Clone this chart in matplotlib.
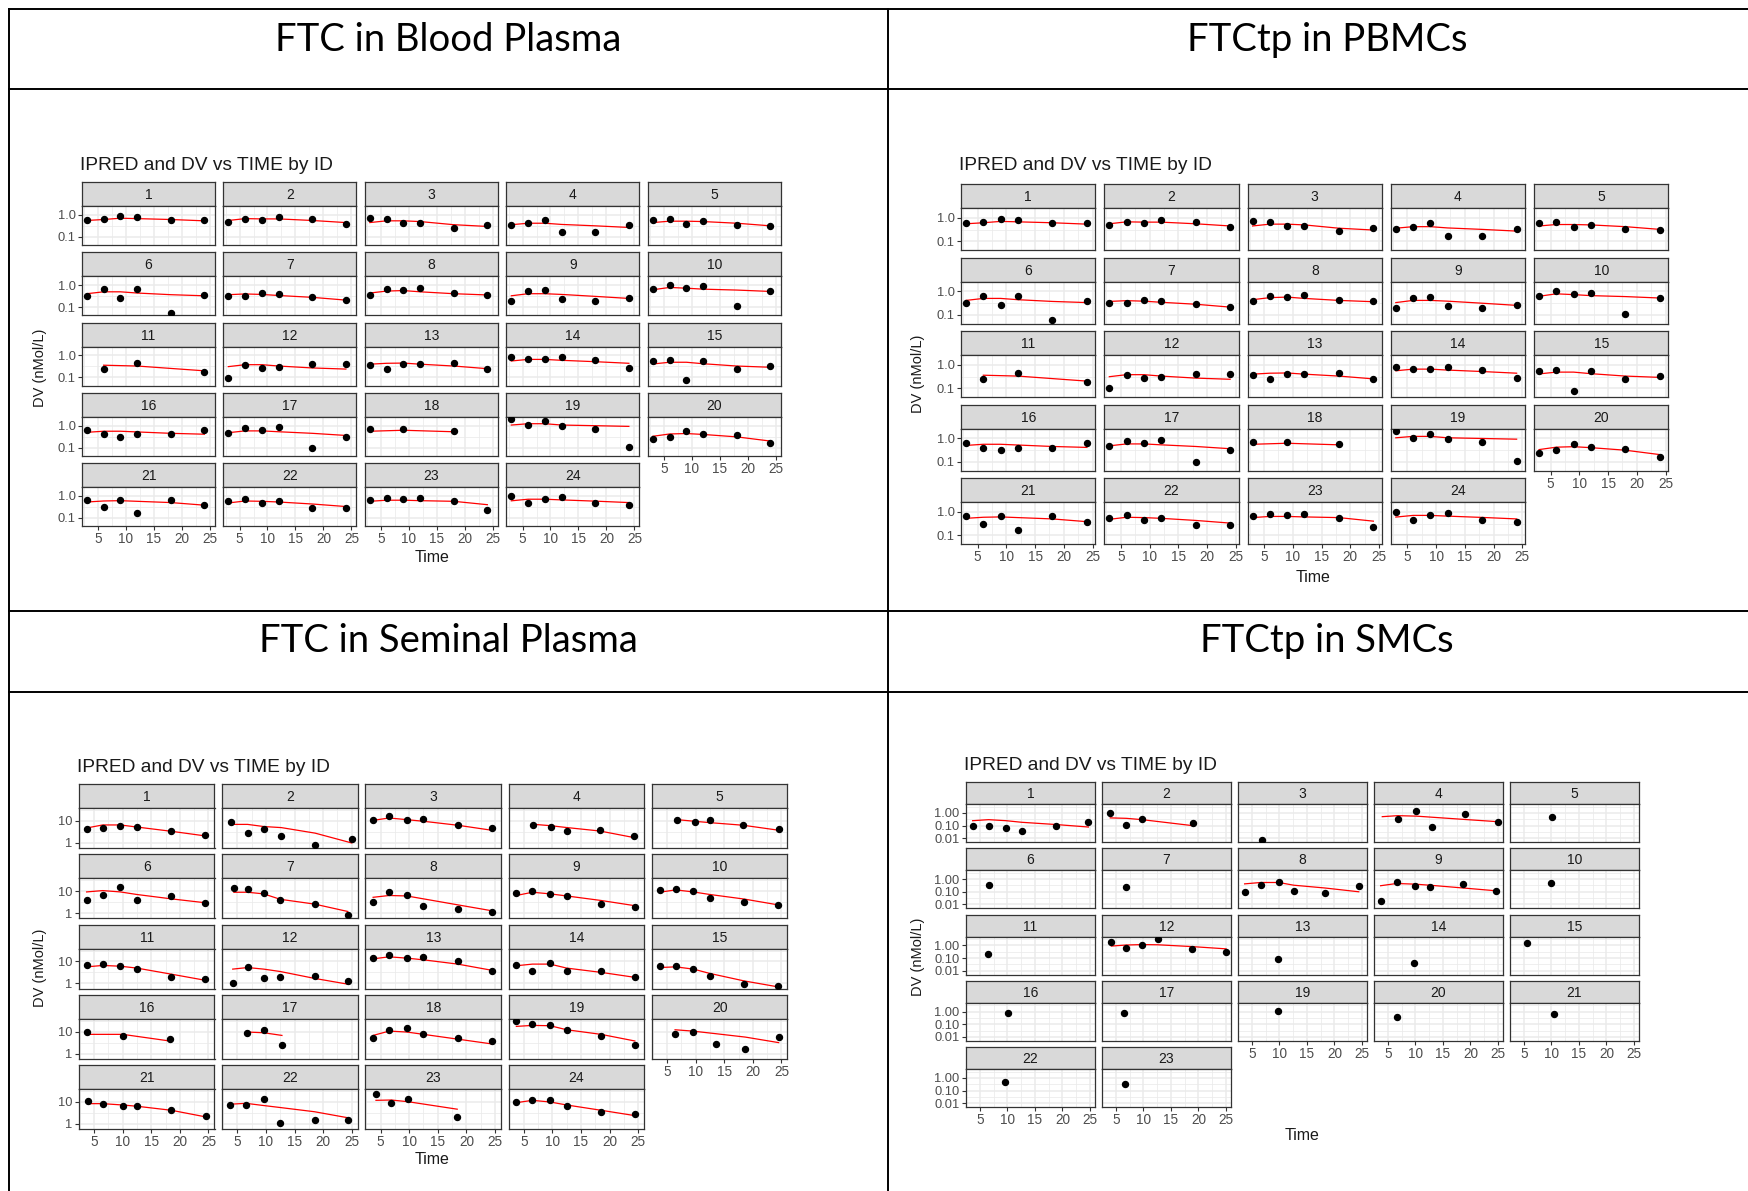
import matplotlib
matplotlib.use("Agg")
import matplotlib.pyplot as plt
from matplotlib.lines import Line2D

W, H = 1749, 1191
fig = plt.figure(figsize=(W / 100, H / 100), dpi=100)
fig.patch.set_facecolor("white")

SANS = ["Liberation Sans", "DejaVu Sans"]

# ---------------------------------------------------------------- data
header_titles = ["FTC in Blood Plasma", "FTCtp in PBMCs",
                 "FTC in Seminal Plasma", "FTCtp in SMCs"]
plot_title = "IPRED and DV vs TIME by ID"
x_label = "Time"
y_label = "DV (nMol/L)"

# ---- FTC in blood plasma (same values shown for FTCtp in PBMCs)
plasma_ids = list(range(1, 25))
plasma_time_default = [3, 6, 9, 12, 18, 24]
plasma_time = {11: [6, 12, 24], 18: [3, 9, 18]}
plasma_dv = {
    1: [0.60, 0.66, 0.93, 0.81, 0.60, 0.60],
    2: [0.49, 0.66, 0.60, 0.79, 0.66, 0.40],
    3: [0.71, 0.66, 0.44, 0.44, 0.26, 0.36],
    4: [0.34, 0.42, 0.58, 0.17, 0.17, 0.34],
    5: [0.58, 0.64, 0.40, 0.52, 0.34, 0.31],
    6: [0.31, 0.66, 0.27, 0.66, 0.056, 0.37],
    7: [0.33, 0.33, 0.44, 0.40, 0.30, 0.21],
    8: [0.37, 0.66, 0.60, 0.73, 0.44, 0.37],
    9: [0.20, 0.54, 0.60, 0.24, 0.20, 0.26],
    10: [0.66, 1.00, 0.76, 0.90, 0.11, 0.54],
    11: [0.24, 0.44, 0.18],
    12: [0.096, 0.37, 0.26, 0.30, 0.40, 0.40],
    13: [0.37, 0.24, 0.40, 0.40, 0.44, 0.24],
    14: [0.81, 0.66, 0.66, 0.81, 0.60, 0.26],
    15: [0.54, 0.60, 0.073, 0.54, 0.24, 0.32],
    16: [0.64, 0.40, 0.31, 0.40, 0.40, 0.64],
    17: [0.48, 0.79, 0.64, 0.87, 0.10, 0.32],
    18: [0.71, 0.71, 0.56],
    19: [2.1, 1.07, 1.56, 0.97, 0.71, 0.107],
    20: [0.24, 0.32, 0.58, 0.44, 0.36, 0.16],
    21: [0.64, 0.31, 0.64, 0.17, 0.68, 0.38],
    22: [0.57, 0.71, 0.46, 0.57, 0.27, 0.27],
    23: [0.64, 0.84, 0.71, 0.84, 0.57, 0.23],
    24: [1.03, 0.47, 0.71, 0.93, 0.47, 0.38],
}
plasma_ipred = {
    1: [0.56, 0.62, 0.71, 0.68, 0.62, 0.54],
    2: [0.56, 0.68, 0.66, 0.66, 0.56, 0.45],
    3: [0.45, 0.54, 0.54, 0.50, 0.36, 0.30],
    4: [0.36, 0.42, 0.42, 0.37, 0.32, 0.27],
    5: [0.45, 0.52, 0.52, 0.50, 0.42, 0.32],
    6: [0.41, 0.50, 0.50, 0.44, 0.37, 0.33],
    7: [0.37, 0.40, 0.38, 0.34, 0.28, 0.21],
    8: [0.44, 0.54, 0.57, 0.50, 0.41, 0.36],
    9: [0.33, 0.41, 0.41, 0.38, 0.31, 0.25],
    10: [0.62, 0.79, 0.73, 0.66, 0.60, 0.52],
    11: [0.36, 0.33, 0.20],
    12: [0.31, 0.38, 0.38, 0.33, 0.27, 0.24],
    13: [0.40, 0.44, 0.45, 0.40, 0.33, 0.25],
    14: [0.56, 0.66, 0.66, 0.60, 0.52, 0.44],
    15: [0.41, 0.49, 0.49, 0.42, 0.33, 0.29],
    16: [0.50, 0.56, 0.56, 0.52, 0.45, 0.41],
    17: [0.48, 0.58, 0.58, 0.53, 0.45, 0.36],
    18: [0.56, 0.62, 0.53],
    19: [1.07, 1.23, 1.23, 1.07, 1.00, 0.93],
    20: [0.33, 0.42, 0.44, 0.40, 0.31, 0.20],
    21: [0.53, 0.59, 0.61, 0.57, 0.50, 0.38],
    22: [0.48, 0.59, 0.57, 0.53, 0.43, 0.33],
    23: [0.57, 0.64, 0.64, 0.61, 0.57, 0.40],
    24: [0.60, 0.71, 0.71, 0.66, 0.58, 0.50],
}

# ---- FTC in seminal plasma
seminal_ids = list(range(1, 25))
seminal_time_default = [3.7, 6.5, 9.6, 12.5, 18.5, 24.4]
seminal_time = {
    2: [3.9, 6.8, 9.6, 12.7, 18.6, 25.0],
    4: [6.6, 9.7, 12.6, 18.3, 24.3],
    5: [6.8, 9.8, 12.5, 18.3, 24.5],
    7: [4.4, 6.8, 9.6, 12.5, 18.5, 24.3],
    12: [4.2, 6.8, 9.6, 12.5, 18.5, 24.3],
    16: [3.7, 10.0, 18.2],
    17: [6.7, 9.6, 12.8],
    20: [6.4, 9.5, 13.6, 18.7, 24.5],
    21: [4.0, 6.5, 10.0, 12.5, 18.5, 24.5],
    23: [4.2, 6.9, 9.8, 18.4],
}
seminal_dv = {
    1: [4.2, 5.0, 6.1, 5.5, 3.4, 2.2],
    2: [9.3, 2.75, 4.5, 2.0, 0.78, 1.5],
    3: [11.5, 16.3, 11.5, 12.8, 6.8, 5.0],
    4: [6.4, 5.5, 3.4, 3.8, 2.15],
    5: [11.5, 8.7, 11.5, 6.8, 4.5],
    6: [4.0, 7.1, 15.7, 4.0, 6.1, 3.0],
    7: [14.2, 12.8, 8.4, 4.0, 2.5, 0.8],
    8: [3.4, 9.3, 6.8, 2.2, 1.5, 1.1],
    9: [8.1, 10.4, 7.3, 6.1, 2.6, 2.0],
    10: [11.5, 12.8, 10.4, 5.1, 3.1, 2.4],
    11: [7.1, 7.6, 6.1, 4.5, 2.0, 1.6],
    12: [1.0, 5.5, 1.8, 2.0, 2.2, 1.25],
    13: [14.2, 19.6, 14.2, 15.7, 10.4, 3.8],
    14: [6.8, 3.8, 8.7, 3.8, 3.6, 1.9],
    15: [6.4, 6.4, 4.5, 2.2, 0.93, 0.73],
    16: [9.7, 6.1, 4.5],
    17: [9.0, 12.3, 2.5],
    18: [5.3, 12.3, 14.2, 8.1, 5.0, 3.6],
    19: [31.6, 23.0, 20.8, 12.3, 6.1, 2.5],
    20: [8.1, 10.0, 2.65, 1.6, 5.9],
    21: [10.7, 8.1, 6.6, 6.4, 4.4, 2.4],
    22: [7.3, 7.3, 13.2, 1.07, 1.5, 1.5],
    23: [22.0, 8.7, 13.2, 2.1],
    24: [10.4, 12.8, 12.3, 6.8, 3.4, 2.75],
}
seminal_ipred = {
    1: [4.8, 6.6, 6.6, 5.3, 3.4, 2.1],
    2: [7.0, 7.0, 5.6, 5.0, 2.8, 1.0],
    3: [10.7, 13.7, 11.5, 9.7, 6.4, 3.8],
    4: [7.1, 6.1, 5.0, 3.5, 1.75],
    5: [11.5, 9.7, 8.4, 6.4, 3.8],
    6: [9.3, 10.7, 9.3, 7.1, 4.5, 3.0],
    7: [9.0, 9.0, 7.6, 4.3, 2.6, 1.2],
    8: [5.3, 6.4, 6.1, 4.5, 2.4, 1.3],
    9: [6.4, 9.0, 7.6, 6.1, 3.8, 2.2],
    10: [9.0, 11.5, 9.3, 7.1, 4.4, 2.4],
    11: [5.7, 6.6, 6.1, 5.0, 2.65, 1.4],
    12: [4.5, 5.3, 4.5, 3.5, 1.7, 0.93],
    13: [13.2, 16.3, 14.2, 11.9, 7.6, 4.0],
    14: [6.4, 7.6, 7.6, 5.0, 3.2, 1.9],
    15: [5.3, 5.7, 4.5, 2.85, 1.3, 0.7],
    16: [7.6, 7.6, 3.8],
    17: [9.7, 9.0, 6.8],
    18: [6.8, 10.7, 9.7, 7.6, 4.6, 2.8],
    19: [17.5, 19.4, 18.8, 12.3, 7.6, 3.8],
    20: [12.3, 10.7, 8.1, 5.7, 3.2],
    21: [8.4, 8.4, 7.3, 6.4, 4.2, 2.1],
    22: [7.9, 8.7, 6.9, 5.6, 3.6, 1.9],
    23: [11.9, 12.3, 10.3, 4.7],
    24: [9.3, 11.9, 10.0, 7.3, 4.2, 2.4],
}

# ---- FTCtp in SMCs
smc_ids = [1, 2, 3, 4, 5, 6, 7, 8, 9, 10, 11, 12, 13, 14, 15,
           16, 17, 19, 20, 21, 22, 23]
smc_time = {
    1: [3.7, 6.6, 9.8, 12.6, 18.8, 24.7],
    2: [4.0, 6.9, 9.8, 19.0],
    3: [6.9],
    4: [4.0, 6.8, 10.2, 13.1, 19.0, 25.0],
    5: [10.2],
    6: [6.7],
    7: [6.9],
    8: [3.7, 6.6, 9.9, 12.6, 18.2, 24.4],
    9: [3.7, 6.6, 9.9, 12.6, 18.6, 24.6],
    10: [10.0],
    11: [6.5],
    12: [4.2, 6.9, 9.8, 12.6, 18.8, 25.0],
    13: [9.8],
    14: [9.7],
    15: [5.5],
    16: [10.1],
    17: [6.5],
    19: [9.7],
    20: [6.6],
    21: [10.5],
    22: [9.5],
    23: [6.7],
}
smc_dv = {
    1: [0.10, 0.086, 0.063, 0.039, 0.086, 0.20],
    2: [1.0, 0.12, 0.35, 0.15],
    3: [0.0074],
    4: [None, 0.35, 1.5, 0.08, 0.8, 0.19],
    5: [0.45],
    6: [0.35],
    7: [0.22],
    8: [0.10, 0.35, 0.58, 0.12, 0.076, 0.29],
    9: [0.018, 0.6, 0.3, 0.25, 0.4, 0.12],
    10: [0.5],
    11: [0.22],
    12: [1.89, 0.58, 1.13, 3.2, 0.50, 0.31],
    13: [0.091],
    14: [0.04],
    15: [1.5],
    16: [0.74],
    17: [0.72],
    19: [1.15],
    20: [0.37],
    21: [0.61],
    22: [0.51],
    23: [0.31],
}
smc_ipred = {
    1: [0.24, 0.29, 0.24, 0.18, 0.12, 0.076],
    2: [0.40, 0.37, 0.29, 0.097],
    4: [0.5, 0.6, 0.55, 0.45, 0.3, 0.2],
    8: [0.42, 0.54, 0.54, 0.33, 0.20, 0.10],
    9: [0.3, 0.45, 0.4, 0.33, 0.2, 0.12],
    12: [0.88, 1.06, 1.15, 1.11, 0.80, 0.53],
}

# ------------------------------------------------------------ layout
quadrants = [
    dict(ids=plasma_ids, tdef=plasma_time_default, times=plasma_time,
         dv=plasma_dv, ipred=plasma_ipred,
         lefts=[82, 223.5, 365, 506.5, 648], pw=133,
         tops=[182, 252.25, 322.5, 392.75, 463], sh=24, ph=39,
         xlim=(2.14, 25.9), ylim=(0.043, 2.55),
         yt=[0.1, 1.0], ytl=["0.1", "1.0"], ymin=[0.316],
         title_xy=(80, 165), ylab_xy=(40, 368), xlab_xy=(432, 557)),
    dict(ids=plasma_ids, tdef=plasma_time_default, times=plasma_time,
         dv=plasma_dv, ipred=plasma_ipred,
         lefts=[961, 1104.25, 1247.5, 1390.75, 1534], pw=134.5,
         tops=[184, 257.5, 331, 404.5, 478], sh=24, ph=42,
         xlim=(2.12, 25.5), ylim=(0.041, 2.7),
         yt=[0.1, 1.0], ytl=["0.1", "1.0"], ymin=[0.316],
         title_xy=(959, 166), ylab_xy=(918, 374), xlab_xy=(1313, 577)),
    dict(ids=seminal_ids, tdef=seminal_time_default, times=seminal_time,
         dv=seminal_dv, ipred=seminal_ipred,
         lefts=[79, 222.25, 365.5, 508.75, 652], pw=135.5,
         tops=[784, 854.25, 924.5, 994.75, 1065], sh=24, ph=40,
         xlim=(2.37, 26.05), ylim=(0.59, 39),
         yt=[1, 10], ytl=["1", "10"], ymin=[3.16, 31.6],
         title_xy=(77, 767), ylab_xy=(40, 968), xlab_xy=(432, 1159)),
    dict(ids=smc_ids, tdef=None, times=smc_time,
         dv=smc_dv, ipred=smc_ipred,
         lefts=[966, 1102, 1238, 1374, 1510], pw=129,
         tops=[782, 848.25, 914.5, 980.75, 1047], sh=22, ph=38,
         xlim=(2.5, 25.9), ylim=(0.005, 5.0),
         yt=[0.01, 0.1, 1.0], ytl=["0.01", "0.10", "1.00"],
         ymin=[0.0316, 0.316, 3.16],
         title_xy=(964, 766), ylab_xy=(918, 957), xlab_xy=(1302, 1135)),
]


def frac_rect(x0, y0, w, h):
    return [x0 / W, 1 - (y0 + h) / H, w / W, h / H]


BORDER = "#333333"
GRID = "#EBEBEB"
STRIP = "#D9D9D9"
TICKC = "#4D4D4D"


def draw_quadrant(q):
    n = len(q["ids"])
    for i, pid in enumerate(q["ids"]):
        r, c = divmod(i, 5)
        x0 = q["lefts"][c]
        top = q["tops"][r]
        # strip
        sax = fig.add_axes(frac_rect(x0, top, q["pw"], q["sh"]))
        sax.set_xticks([])
        sax.set_yticks([])
        sax.set_facecolor(STRIP)
        for sp in sax.spines.values():
            sp.set_color(BORDER)
            sp.set_linewidth(0.9)
        sax.text(0.5, 0.45, str(pid), transform=sax.transAxes, ha="center",
                 va="center", fontsize=10, color="#1A1A1A", family=SANS)
        # panel
        ax = fig.add_axes(frac_rect(x0, top + q["sh"], q["pw"], q["ph"]))
        ax.set_yscale("log")
        ax.set_xlim(*q["xlim"])
        ax.set_ylim(*q["ylim"])
        for sp in ax.spines.values():
            sp.set_color(BORDER)
            sp.set_linewidth(0.9)
        # grid
        for xv in [5, 10, 15, 20, 25]:
            ax.axvline(xv, color=GRID, lw=1.1, zorder=0)
        for xv in [2.5, 7.5, 12.5, 17.5, 22.5]:
            if q["xlim"][0] < xv < q["xlim"][1]:
                ax.axvline(xv, color=GRID, lw=0.55, zorder=0)
        for yv in q["yt"]:
            ax.axhline(yv, color=GRID, lw=1.1, zorder=0)
        for yv in q["ymin"]:
            if q["ylim"][0] < yv < q["ylim"][1]:
                ax.axhline(yv, color=GRID, lw=0.55, zorder=0)
        ax.minorticks_off()
        show_y = (c == 0)
        show_x = (i + 5 >= n)
        ax.set_yticks(q["yt"])
        ax.set_xticks([5, 10, 15, 20, 25])
        if show_y:
            ax.set_yticklabels(q["ytl"])
            ax.tick_params(axis="y", length=3, width=0.8, color=BORDER,
                           labelsize=9.3, labelcolor=TICKC, pad=1.5)
        else:
            ax.tick_params(axis="y", length=0, labelleft=False)
        if show_x:
            ax.set_xticklabels(["5", "10", "15", "20", "25"])
            ax.tick_params(axis="x", length=3, width=0.8, color=BORDER,
                           labelsize=9.8, labelcolor=TICKC, pad=1.5)
        else:
            ax.tick_params(axis="x", length=0, labelbottom=False)
        for lab in ax.get_xticklabels() + ax.get_yticklabels():
            lab.set_family(SANS)
        t = q["times"].get(pid, q["tdef"])
        dv = q["dv"][pid]
        ip = q["ipred"].get(pid)
        if ip is not None and len(t) > 1:
            ax.plot(t, ip, color="#FF0000", lw=0.9, zorder=2)
        pts = [(tt, v) for tt, v in zip(t, dv) if v is not None]
        ax.plot([p[0] for p in pts], [p[1] for p in pts], "o", color="black",
                ms=4.3, zorder=3, clip_on=True)

    tx, ty = q["title_xy"]
    fig.text(tx / W, 1 - ty / H, plot_title, ha="left", va="center",
             fontsize=13.8, color="#1A1A1A", family=SANS)
    lx, ly = q["ylab_xy"]
    fig.text(lx / W, 1 - ly / H, y_label, ha="center", va="center",
             rotation=90, fontsize=10.5, color="#1A1A1A", family=SANS)
    xx, xy = q["xlab_xy"]
    fig.text(xx / W, 1 - xy / H, x_label, ha="center", va="center",
             fontsize=11.5, color="#1A1A1A", family=SANS)


for q in quadrants:
    draw_quadrant(q)


# ----------------------------------------------------------- table frame
def hline(y, x0=9, x1=W):
    fig.add_artist(Line2D([x0 / W, x1 / W], [1 - y / H, 1 - y / H],
                          color="black", lw=1.4, transform=fig.transFigure))


def vline(x, y0=9, y1=H):
    fig.add_artist(Line2D([x / W, x / W], [1 - y0 / H, 1 - y1 / H],
                          color="black", lw=1.4, transform=fig.transFigure))


for yv in [9, 89, 611, 692]:
    hline(yv)
vline(9)
vline(888)

hdr_pos = [(448, 40), (1327, 40), (448, 641), (1327, 641)]
for s, (hx, hy) in zip(header_titles, hdr_pos):
    fig.text(hx / W, 1 - hy / H, s, ha="center", va="center",
             fontsize=27.5, color="black", family=["Lato", "DejaVu Sans"])

fig.savefig("out.png", dpi=100, facecolor="white")
